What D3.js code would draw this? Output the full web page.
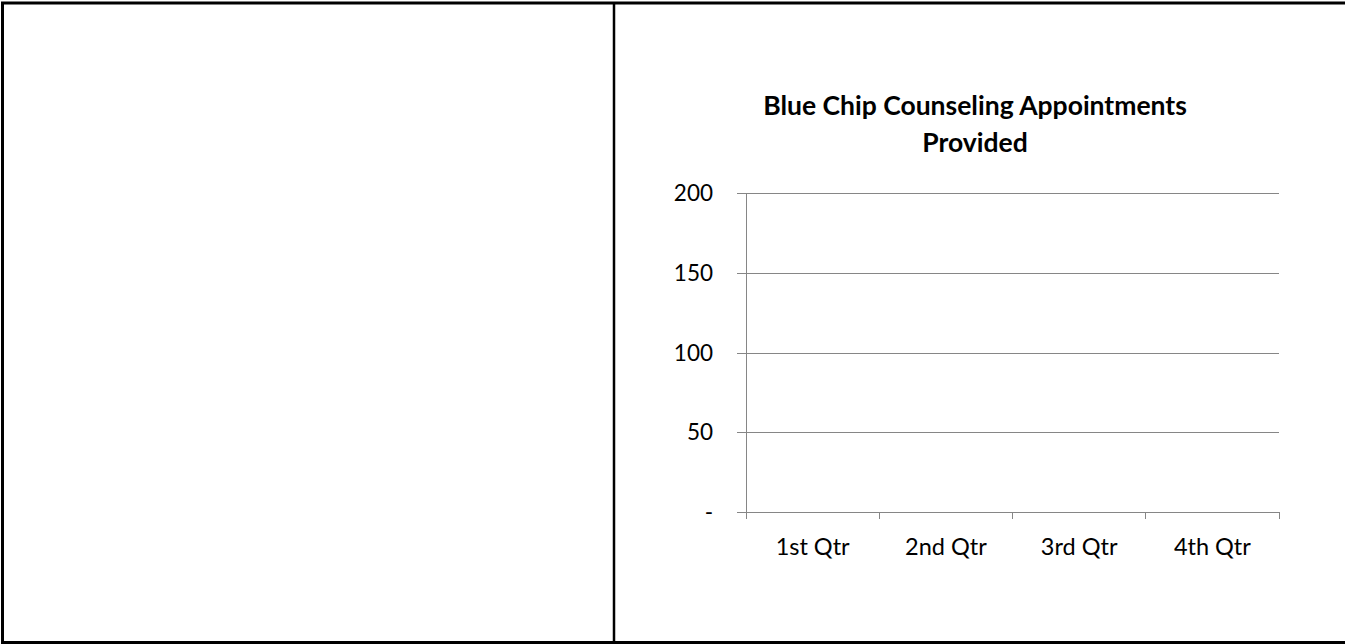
<!DOCTYPE html>
<html>
<head>
<meta charset="utf-8">
<script src="https://cdn.jsdelivr.net/npm/d3@7"></script>
<style>
  html, body { margin: 0; padding: 0; background: #ffffff; }
  svg { display: block; }
</style>
</head>
<body>
<svg id="chart" width="1345" height="644"></svg>
<script>
// Chart content
const titleLines = ["Blue Chip Counseling Appointments", "Provided"];
const categories = ["1st Qtr", "2nd Qtr", "3rd Qtr", "4th Qtr"];
const appointments = [0, 0, 0, 0];
const yTicks = [0, 50, 100, 150, 200];
const yMax = 200;

const svg = d3.select("#chart");
const font = "Lato, 'Open Sans', sans-serif";

// Table cell borders around the chart
const border = svg.append("g").attr("fill", "none").attr("stroke", "#000");
border.append("rect")
  .attr("x", 2.5).attr("y", 3)
  .attr("width", 1360).attr("height", 639.5)
  .attr("stroke-width", 3);
border.append("line")
  .attr("x1", 614).attr("x2", 614)
  .attr("y1", 3).attr("y2", 642)
  .attr("stroke-width", 2.5);

// Plot area
const plot = { left: 746, right: 1279, top: 193, bottom: 512 };

const x = d3.scaleBand()
  .domain(categories)
  .range([plot.left, plot.right])
  .paddingInner(0.5).paddingOuter(0.25);

const xOuter = d3.scaleBand()
  .domain(categories)
  .range([plot.left, plot.right]);

const y = d3.scaleLinear()
  .domain([0, yMax])
  .range([plot.bottom, plot.top]);

const gridColor = "#868686";

// Horizontal gridlines with short ticks left of the axis
const yAxis = d3.axisLeft(y)
  .tickValues(yTicks)
  .tickSize(-(plot.right - plot.left))
  .tickSizeOuter(0)
  .tickFormat(() => "");
const gy = svg.append("g")
  .attr("transform", `translate(${plot.left},0)`)
  .call(yAxis);
gy.select(".domain").remove();
gy.selectAll(".tick line")
  .attr("x1", -9)
  .attr("stroke", gridColor)
  .attr("stroke-width", 1)
  .attr("shape-rendering", "crispEdges");

// Y tick labels (zero shown as a dash)
svg.append("g").selectAll("text")
  .data(yTicks)
  .join("text")
  .attr("x", 713)
  .attr("y", d => y(d))
  .attr("dy", "0.36em")
  .attr("text-anchor", "end")
  .attr("font-family", font)
  .attr("font-size", 22.5)
  .attr("fill", "#000")
  .text(d => d === 0 ? "-" : d3.format("d")(d));

// Vertical axis line
svg.append("line")
  .attr("x1", plot.left).attr("x2", plot.left)
  .attr("y1", plot.top).attr("y2", plot.bottom)
  .attr("stroke", gridColor)
  .attr("shape-rendering", "crispEdges");

// Category axis with ticks between categories
const boundaries = categories.map(c => xOuter(c)).concat([plot.right]);
const gx = svg.append("g");
gx.append("line")
  .attr("x1", plot.left).attr("x2", plot.right)
  .attr("y1", plot.bottom).attr("y2", plot.bottom)
  .attr("stroke", gridColor)
  .attr("shape-rendering", "crispEdges");
gx.selectAll("line.tick")
  .data(boundaries)
  .join("line")
  .attr("class", "tick")
  .attr("x1", d => d).attr("x2", d => d)
  .attr("y1", plot.bottom).attr("y2", plot.bottom + 7)
  .attr("stroke", gridColor)
  .attr("shape-rendering", "crispEdges");
gx.selectAll("text")
  .data(categories)
  .join("text")
  .attr("x", d => xOuter(d) + xOuter.bandwidth() / 2)
  .attr("y", 555)
  .attr("text-anchor", "middle")
  .attr("font-family", font)
  .attr("font-size", 23.5)
  .attr("fill", "#000")
  .text(d => d);

// Bars
svg.append("g").selectAll("rect")
  .data(appointments)
  .join("rect")
  .attr("x", (d, i) => x(categories[i]))
  .attr("width", x.bandwidth())
  .attr("y", d => y(d))
  .attr("height", d => plot.bottom - y(d))
  .attr("fill", "#4f81bd");

// Title
svg.append("text")
  .attr("x", 975)
  .attr("text-anchor", "middle")
  .attr("font-family", font)
  .attr("font-weight", "bold")
  .attr("font-size", 26.5)
  .attr("fill", "#000")
  .selectAll("tspan")
  .data(titleLines)
  .join("tspan")
  .attr("x", 975)
  .attr("y", (d, i) => 115 + i * 37)
  .text(d => d);
</script>
</body>
</html>
